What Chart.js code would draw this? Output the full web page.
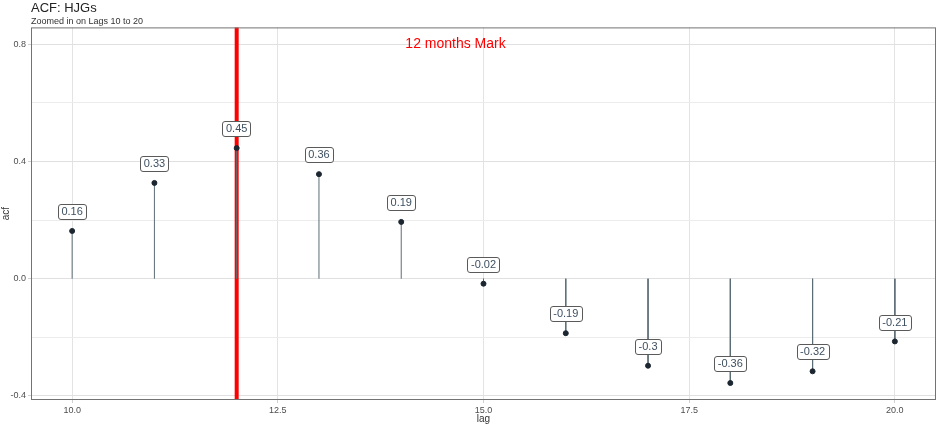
<!DOCTYPE html>
<html lang="en">

<head>
  <meta charset="UTF-8">
  <title>ACF: HJGs</title>
  <style>
    body {
      margin: 0;
      background-color: #ffffff;
    }

    .chart-container {
      width: 941px;
      height: 425px;
    }
  </style>
  <script src="https://cdn.jsdelivr.net/npm/chart.js"></script>
</head>

<body>
  <div class="chart-container">
    <canvas id="acfChart"></canvas>
  </div>

  <script>
    // lags and autocorrelation values
    const lags = [10, 11, 12, 13, 14, 15, 16, 17, 18, 19, 20];
    const acfValues = [0.163, 0.327, 0.446, 0.357, 0.194, -0.017, -0.186, -0.297, -0.356, -0.316, -0.214];
    const xTicks = [10, 12.5, 15, 17.5, 20];
    const yTicks = [-0.4, -0.2, 0, 0.2, 0.4, 0.6, 0.8];
    const markLag = 12;
    const markText = '12 months Mark';
    const markTextPos = [14.66, 0.8];
    const labelNudge = 0.066;

    const points = lags.map((lag, i) => ({ x: lag, y: acfValues[i] }));

    // stems from zero to each point, broken with nulls
    const stems = [];
    lags.forEach((lag, i) => {
      stems.push({ x: lag, y: 0 });
      stems.push({ x: lag, y: acfValues[i] });
      stems.push({ x: lag, y: null });
    });

    const fontFamily = 'Arial, "Liberation Sans", sans-serif';

    // red vertical line, value labels, annotation text and panel border
    const extras = {
      id: 'extras',
      beforeDatasetsDraw(chart) {
        const { ctx, chartArea, scales } = chart;
        const x = scales.x.getPixelForValue(markLag);
        ctx.save();
        ctx.strokeStyle = '#ff0000';
        ctx.lineWidth = 4;
        ctx.beginPath();
        ctx.moveTo(x, chartArea.top);
        ctx.lineTo(x, chartArea.bottom);
        ctx.stroke();
        ctx.restore();
      },
      afterDatasetsDraw(chart) {
        const { ctx, chartArea, scales } = chart;
        ctx.save();
        ctx.font = '11px ' + fontFamily;
        ctx.textAlign = 'center';
        ctx.textBaseline = 'middle';
        lags.forEach((lag, i) => {
          const txt = String(Math.round(acfValues[i] * 100) / 100);
          const cx = scales.x.getPixelForValue(lag);
          const cy = scales.y.getPixelForValue(acfValues[i] + labelNudge);
          const w = ctx.measureText(txt).width + 7;
          const h = 15;
          ctx.fillStyle = '#ffffff';
          ctx.strokeStyle = '#5a5a5a';
          ctx.lineWidth = 1;
          ctx.beginPath();
          ctx.roundRect(Math.round(cx - w / 2) + 0.5, Math.round(cy - h / 2) + 0.5, Math.round(w), h, 2.5);
          ctx.fill();
          ctx.stroke();
          ctx.fillStyle = '#3d4f60';
          ctx.fillText(txt, cx, cy + 0.5);
        });

        ctx.font = '14px ' + fontFamily;
        ctx.fillStyle = '#ff0000';
        ctx.fillText(markText, scales.x.getPixelForValue(markTextPos[0]), scales.y.getPixelForValue(markTextPos[1]));

        ctx.strokeStyle = '#737373';
        ctx.lineWidth = 1;
        ctx.strokeRect(chartArea.left + 0.5, chartArea.top + 0.5, chartArea.width - 1, chartArea.height - 1);
        ctx.restore();
      }
    };

    new Chart(document.getElementById('acfChart'), {
      type: 'scatter',
      data: {
        datasets: [{
          type: 'line',
          data: stems,
          borderColor: '#5d6d74',
          borderWidth: 1,
          pointRadius: 0,
          spanGaps: false,
          order: 2
        }, {
          data: points,
          backgroundColor: '#1b2631',
          borderColor: '#1b2631',
          pointRadius: 2.5,
          order: 1
        }]
      },
      options: {
        responsive: true,
        maintainAspectRatio: false,
        animation: false,
        layout: { padding: { right: 2, bottom: 0, top: 0, left: 0 } },
        plugins: {
          legend: { display: false },
          tooltip: { enabled: false },
          title: {
            display: true,
            text: 'ACF: HJGs',
            align: 'start',
            fullSize: false,
            color: '#222222',
            font: { family: fontFamily, size: 13, weight: 'normal' },
            padding: { top: 1, bottom: 0 }
          },
          subtitle: {
            display: true,
            text: 'Zoomed in on Lags 10 to 20',
            align: 'start',
            fullSize: false,
            color: '#333333',
            font: { family: fontFamily, size: 9 },
            padding: { top: 0, bottom: 0 }
          }
        },
        scales: {
          x: {
            type: 'linear',
            min: 9.5,
            max: 20.5,
            afterBuildTicks: scale => { scale.ticks = xTicks.map(v => ({ value: v })); },
            afterFit: scale => {
              scale.height = 25;
              scale.paddingLeft = 0;
              scale.paddingRight = 0;
            },
            ticks: {
              color: '#4d4d4d',
              font: { family: fontFamily, size: 9 },
              padding: 2,
              maxRotation: 0,
              callback: v => v.toFixed(1)
            },
            grid: { color: '#e3e3e3', lineWidth: 1, drawTicks: true, tickLength: 3, tickColor: '#d0d0d0' },
            border: { display: false },
            title: {
              display: true,
              text: 'lag',
              color: '#333333',
              font: { family: fontFamily, size: 10 },
              padding: { top: 0, bottom: 0 }
            }
          },
          y: {
            type: 'linear',
            min: -0.414,
            max: 0.858,
            afterBuildTicks: scale => { scale.ticks = yTicks.map(v => ({ value: v })); },
            afterFit: scale => { scale.width = 31; },
            ticks: {
              color: '#4d4d4d',
              font: { family: fontFamily, size: 9 },
              padding: 2,
              callback: v => (Math.abs(v * 10 % 4) < 0.001 ? v.toFixed(1) : '')
            },
            grid: {
              color: ctx => (Math.abs(ctx.tick.value * 10 % 4) < 0.001 ? '#e0e0e0' : '#ececec'),
              lineWidth: 1,
              drawTicks: true,
              tickLength: 3,
              tickColor: ctx => (Math.abs(ctx.tick.value * 10 % 4) < 0.001 ? '#d0d0d0' : 'rgba(0,0,0,0)')
            },
            border: { display: false },
            title: {
              display: true,
              text: 'acf',
              color: '#333333',
              font: { family: fontFamily, size: 10 },
              padding: { top: 0, bottom: 2 }
            }
          }
        }
      },
      plugins: [extras]
    });
  </script>
</body>

</html>
